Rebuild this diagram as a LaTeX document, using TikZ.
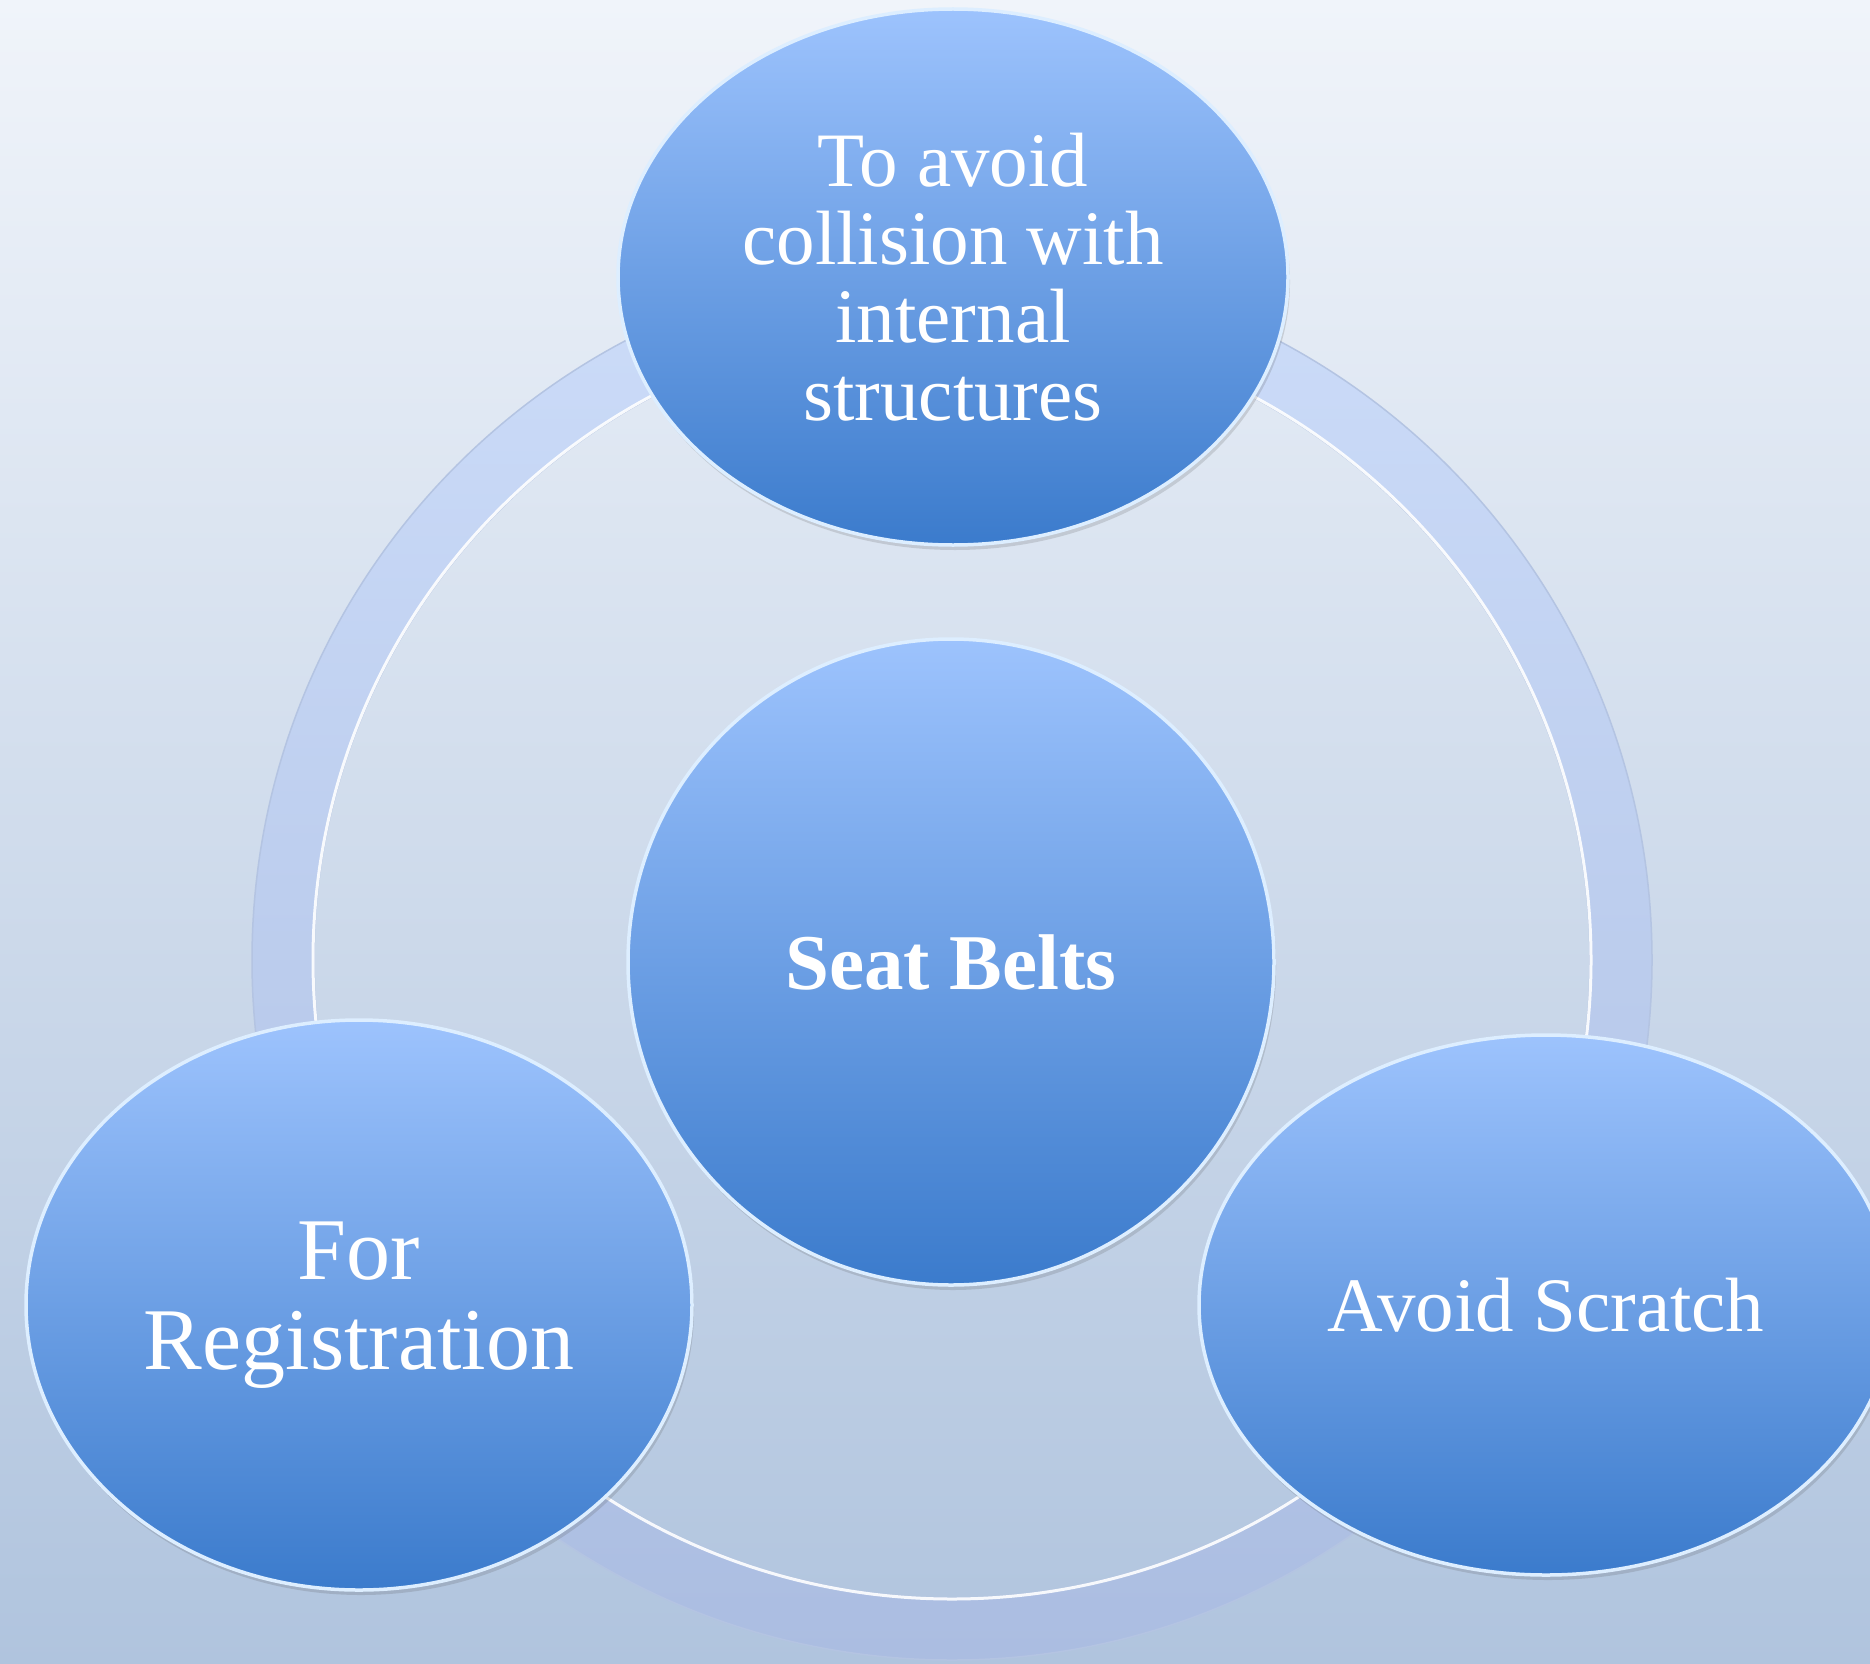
\documentclass[tikz,border=0pt]{standalone}
\usepackage{fontspec}
\setmainfont{Liberation Serif}
\usetikzlibrary{shapes.geometric,shadows}
\definecolor{bgtop}{HTML}{F0F4FA}
\definecolor{bgbot}{HTML}{B0C4DE}
\definecolor{ringtop}{HTML}{CCDCF9}
\definecolor{ringbot}{HTML}{ABBDE1}
\definecolor{ringedge}{HTML}{B4C4E2}
\definecolor{baltop}{HTML}{9DC3FD}
\definecolor{balmid}{HTML}{7DA7EA}
\definecolor{balbot}{HTML}{3B7BCC}
\definecolor{rim}{HTML}{DDEEFF}
\begin{document}
\begin{tikzpicture}[x=1pt,y=-1pt,
  bubble/.style={ellipse, inner sep=0pt, top color=baltop, middle color=balmid, bottom color=balbot,
    draw=rim, line width=3.5pt, text=white, align=center,
    drop shadow={shadow xshift=2pt, shadow yshift=-5pt, opacity=0.18, fill=black!70}},
  txt/.style={font=\fontsize{77}{78}\selectfont}]
\useasboundingbox (0,0) rectangle (1870,1664);
\shade[top color=bgtop, bottom color=bgbot] (0,0) rectangle (1870,1664);
% ring
\coordinate (rc) at (952,960);
\path[even odd rule, top color=ringtop, bottom color=ringbot, draw=ringedge, line width=1.5pt]
  (rc) circle[radius=700pt] (rc) circle[radius=638pt];
\draw[white, line width=3pt, opacity=0.9] (rc) circle[radius=639pt];
% bubbles
\node[bubble, minimum width=646pt, minimum height=646pt,
  font=\fontsize{79}{80}\selectfont\bfseries] (center) at (951,962) {Seat Belts};
\node[bubble, txt, minimum width=670pt, minimum height=536pt] (top) at (953,277)
  {To avoid\\collision with\\internal\\structures};
\node[bubble, minimum width=666pt, minimum height=570pt,
  font=\fontsize{88}{90}\selectfont] (left) at (359,1305) {For\\Registration};
\node[bubble, txt, minimum width=694pt, minimum height=540pt] (right) at (1546,1305)
  {Avoid Scratch};
\end{tikzpicture}
\end{document}
